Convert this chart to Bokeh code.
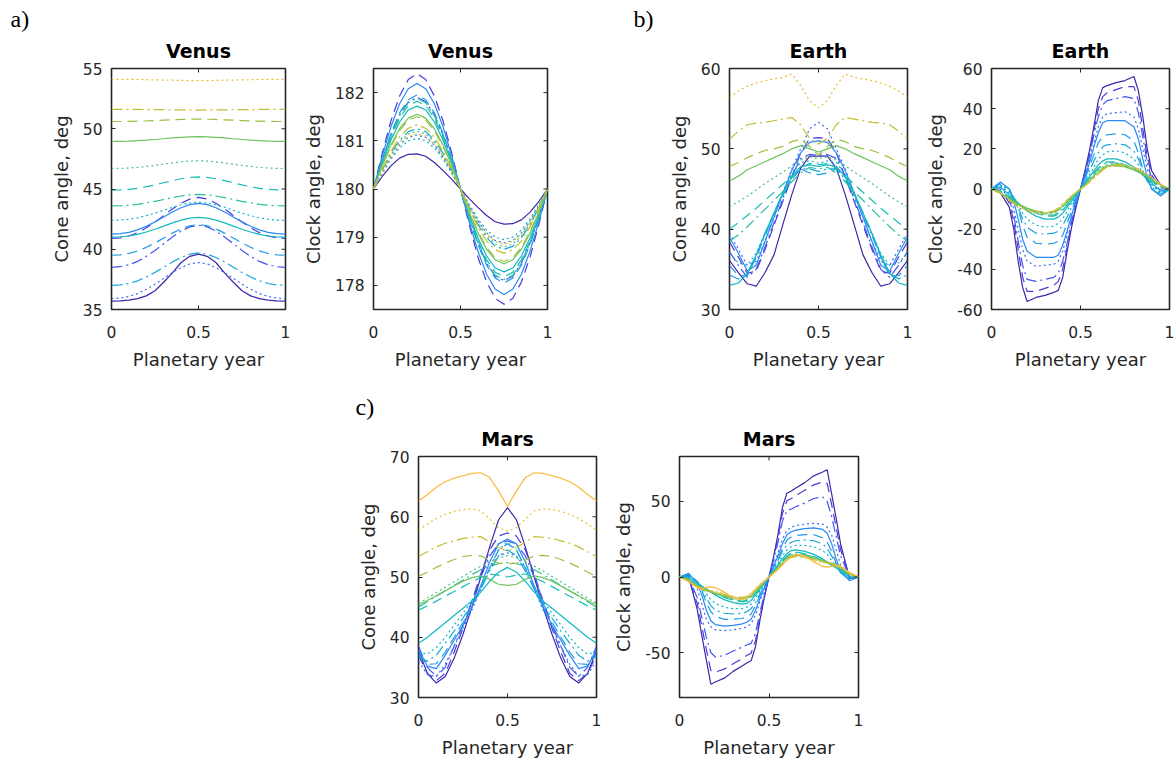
import math
from bokeh.plotting import figure
from bokeh.models import Range1d, FixedTicker, Spacer, Title
from bokeh.layouts import row, column
from bokeh.embed import file_html
from bokeh.resources import INLINE

# ---------------- data ----------------
x21 = [0, 0.05, 0.1, 0.15, 0.2, 0.25, 0.3, 0.35, 0.4, 0.45, 0.5,
       0.55, 0.6, 0.65, 0.7, 0.75, 0.8, 0.85, 0.9, 0.95, 1]
x31 = [0, 0.05, 0.1, 0.125, 0.15, 0.175, 0.2, 0.25, 0.3, 0.35, 0.375, 0.4, 0.425, 0.45, 0.475, 0.5,
       0.525, 0.55, 0.575, 0.6, 0.625, 0.65, 0.7, 0.75, 0.8, 0.825, 0.85, 0.875, 0.9, 0.95, 1]
x_ticks = [0, 0.5, 1]

# Venus cone angle
vc0 = [35.7, 35.72, 35.78, 35.9, 36.13, 36.56, 37.26, 38.04, 38.9, 39.41, 39.6, 39.41, 38.9, 38.04, 37.26, 36.56, 36.13, 35.9, 35.78, 35.72, 35.7]
vc1 = [40.9, 40.95, 41.1, 41.38, 41.78, 42.26, 42.8, 43.35, 43.82, 44.16, 44.3, 44.16, 43.82, 43.35, 42.8, 42.26, 41.78, 41.38, 41.1, 40.95, 40.9]
vc2 = [38.5, 38.55, 38.71, 38.99, 39.41, 39.9, 40.46, 41.02, 41.51, 41.86, 42.0, 41.86, 41.51, 41.02, 40.46, 39.9, 39.41, 38.99, 38.71, 38.55, 38.5]
vc3 = [35.9, 35.95, 36.08, 36.32, 36.68, 37.1, 37.58, 38.06, 38.48, 38.78, 38.9, 38.78, 38.48, 38.06, 37.58, 37.1, 36.68, 36.32, 36.08, 35.95, 35.9]
vc4 = [41.25, 41.29, 41.4, 41.61, 41.91, 42.27, 42.68, 43.09, 43.44, 43.7, 43.8, 43.7, 43.44, 43.09, 42.68, 42.27, 41.91, 41.61, 41.4, 41.29, 41.25]
vc5 = [39.5, 39.54, 39.65, 39.86, 40.16, 40.52, 40.93, 41.34, 41.69, 41.95, 42.05, 41.95, 41.69, 41.34, 40.93, 40.52, 40.16, 39.86, 39.65, 39.54, 39.5]
vc6 = [37.0, 37.04, 37.16, 37.38, 37.7, 38.08, 38.51, 38.94, 39.32, 39.59, 39.7, 39.59, 39.32, 38.94, 38.51, 38.08, 37.7, 37.38, 37.16, 37.04, 37.0]
vc7 = [42.4, 42.42, 42.49, 42.61, 42.79, 43.0, 43.24, 43.48, 43.69, 43.84, 43.9, 43.84, 43.69, 43.48, 43.24, 43.0, 42.79, 42.61, 42.49, 42.42, 42.4]
vc8 = [41.0, 41.02, 41.1, 41.23, 41.43, 41.66, 41.92, 42.19, 42.42, 42.58, 42.65, 42.58, 42.42, 42.19, 41.92, 41.66, 41.43, 41.23, 41.1, 41.02, 41.0]
vc9 = [44.9, 44.92, 44.97, 45.05, 45.19, 45.34, 45.52, 45.69, 45.85, 45.96, 46.0, 45.96, 45.85, 45.69, 45.52, 45.34, 45.19, 45.05, 44.97, 44.92, 44.9]
vc10 = [43.6, 43.61, 43.66, 43.73, 43.85, 43.98, 44.13, 44.28, 44.42, 44.51, 44.55, 44.51, 44.42, 44.28, 44.13, 43.98, 43.85, 43.73, 43.66, 43.61, 43.6]
vc11 = [46.7, 46.71, 46.74, 46.79, 46.87, 46.96, 47.06, 47.17, 47.26, 47.32, 47.35, 47.32, 47.26, 47.17, 47.06, 46.96, 46.87, 46.79, 46.74, 46.71, 46.7]
vc12 = [48.95, 48.96, 48.97, 49.01, 49.05, 49.11, 49.17, 49.24, 49.29, 49.33, 49.35, 49.33, 49.29, 49.24, 49.17, 49.11, 49.05, 49.01, 48.97, 48.96, 48.95]
vc13 = [50.6, 50.6, 50.61, 50.63, 50.65, 50.68, 50.71, 50.74, 50.77, 50.79, 50.8, 50.79, 50.77, 50.74, 50.71, 50.68, 50.65, 50.63, 50.61, 50.6, 50.6]
vc14 = [51.6, 51.6, 51.6, 51.6, 51.59, 51.58, 51.58, 51.57, 51.56, 51.56, 51.55, 51.56, 51.56, 51.57, 51.58, 51.58, 51.59, 51.6, 51.6, 51.6, 51.6]
vc15 = [54.1, 54.1, 54.09, 54.09, 54.07, 54.06, 54.04, 54.03, 54.01, 54.0, 54.0, 54.0, 54.01, 54.03, 54.04, 54.06, 54.07, 54.09, 54.09, 54.1, 54.1]

# Venus clock angle
vk0 = [180, 180.26, 180.48, 180.64, 180.72, 180.73, 180.68, 180.55, 180.38, 180.2, 180, 179.8, 179.62, 179.45, 179.32, 179.27, 179.28, 179.36, 179.52, 179.74, 180]
vk1 = [180, 180.74, 181.41, 181.93, 182.27, 182.39, 182.27, 181.93, 181.41, 180.74, 180, 179.26, 178.59, 178.07, 177.73, 177.61, 177.73, 178.07, 178.59, 179.26, 180]
vk2 = [180, 180.59, 181.12, 181.54, 181.81, 181.9, 181.81, 181.54, 181.12, 180.59, 180, 179.41, 178.88, 178.46, 178.19, 178.1, 178.19, 178.46, 178.88, 179.41, 180]
vk3 = [180, 180.35, 180.66, 180.91, 181.07, 181.12, 181.07, 180.91, 180.66, 180.35, 180, 179.65, 179.34, 179.09, 178.93, 178.88, 178.93, 179.09, 179.34, 179.65, 180]
vk4 = [180, 180.68, 181.29, 181.77, 182.08, 182.19, 182.08, 181.77, 181.29, 180.68, 180, 179.32, 178.71, 178.23, 177.92, 177.81, 177.92, 178.23, 178.71, 179.32, 180]
vk5 = [180, 180.6, 181.15, 181.58, 181.85, 181.95, 181.85, 181.58, 181.15, 180.6, 180, 179.4, 178.85, 178.42, 178.15, 178.05, 178.15, 178.42, 178.85, 179.4, 180]
vk6 = [180, 180.39, 180.74, 181.01, 181.19, 181.25, 181.19, 181.01, 180.74, 180.39, 180, 179.61, 179.26, 178.99, 178.81, 178.75, 178.81, 178.99, 179.26, 179.61, 180]
vk7 = [180, 180.32, 180.62, 180.85, 181.0, 181.05, 181.0, 180.85, 180.62, 180.32, 180, 179.68, 179.38, 179.15, 179.0, 178.95, 179.0, 179.15, 179.38, 179.68, 180]
vk8 = [180, 180.53, 181.01, 181.39, 181.64, 181.72, 181.64, 181.39, 181.01, 180.53, 180, 179.47, 178.99, 178.61, 178.36, 178.28, 178.36, 178.61, 178.99, 179.47, 180]
vk9 = [180, 180.56, 181.07, 181.47, 181.73, 181.82, 181.73, 181.47, 181.07, 180.56, 180, 179.44, 178.93, 178.53, 178.27, 178.18, 178.27, 178.53, 178.93, 179.44, 180]
vk10 = [180, 180.58, 181.11, 181.52, 181.79, 181.88, 181.79, 181.52, 181.11, 180.58, 180, 179.42, 178.89, 178.48, 178.21, 178.12, 178.21, 178.48, 178.89, 179.42, 180]
vk11 = [180, 180.37, 180.71, 180.97, 181.14, 181.2, 181.14, 180.97, 180.71, 180.37, 180, 179.63, 179.29, 179.03, 178.86, 178.8, 178.86, 179.03, 179.29, 179.63, 180]
vk12 = [180, 180.48, 180.91, 181.25, 181.47, 181.55, 181.47, 181.25, 180.91, 180.48, 180, 179.52, 179.09, 178.75, 178.53, 178.45, 178.53, 178.75, 179.09, 179.52, 180]
vk13 = [180, 180.46, 180.88, 181.21, 181.43, 181.5, 181.43, 181.21, 180.88, 180.46, 180, 179.54, 179.12, 178.79, 178.57, 178.5, 178.57, 178.79, 179.12, 179.54, 180]
vk14 = [180, 180.41, 180.78, 181.08, 181.26, 181.33, 181.26, 181.08, 180.78, 180.41, 180, 179.59, 179.22, 178.92, 178.74, 178.67, 178.74, 178.92, 179.22, 179.59, 180]
vk15 = [180, 180.36, 180.68, 180.93, 181.09, 181.15, 181.09, 180.93, 180.68, 180.36, 180, 179.64, 179.32, 179.07, 178.91, 178.85, 178.91, 179.07, 179.32, 179.64, 180]

# Earth cone angle
ec0 = [36.1, 34.6, 33.2, 32.9, 34.6, 36.8, 40.6, 44.3, 47.6, 49.1, 49.1, 49.1, 47.6, 44.3, 40.6, 36.8, 34.6, 32.9, 33.2, 34.6, 36.1]
ec1 = [38.4, 36.5, 34.5, 34.8, 37.5, 40.5, 43.5, 46.5, 49.5, 51.3, 51.4, 51.3, 49.5, 46.5, 43.5, 40.5, 37.5, 34.8, 34.5, 36.5, 38.4]
ec2 = [37.2, 35.5, 34.0, 35.0, 37.8, 40.8, 43.8, 46.6, 48.8, 49.3, 49.2, 49.3, 48.8, 46.6, 43.8, 40.8, 37.8, 35.0, 34.0, 35.5, 37.2]
ec3 = [39.5, 37.5, 35.5, 36.0, 38.5, 41.5, 44.5, 47.5, 50.0, 52.5, 53.3, 52.5, 50.0, 47.5, 44.5, 41.5, 38.5, 36.0, 35.5, 37.5, 39.5]
ec4 = [39.0, 37.0, 34.8, 35.5, 38.5, 41.5, 44.5, 47.3, 49.5, 50.8, 51.0, 50.8, 49.5, 47.3, 44.5, 41.5, 38.5, 35.5, 34.8, 37.0, 39.0]
ec5 = [35.5, 34.2, 34.2, 36.5, 39.5, 42.0, 44.5, 46.5, 47.5, 47.0, 46.8, 47.0, 47.5, 46.5, 44.5, 42.0, 39.5, 36.5, 34.2, 34.2, 35.5]
ec6 = [34.3, 33.8, 34.5, 36.5, 39.2, 41.8, 44.2, 46.2, 47.5, 47.5, 47.2, 47.5, 47.5, 46.2, 44.2, 41.8, 39.2, 36.5, 34.5, 33.8, 34.3]
ec7 = [37.0, 35.8, 35.5, 37.0, 39.5, 42.0, 44.5, 46.8, 48.3, 48.5, 48.2, 48.5, 48.3, 46.8, 44.5, 42.0, 39.5, 37.0, 35.5, 35.8, 37.0]
ec8 = [33.0, 33.3, 34.5, 36.8, 39.5, 42.0, 44.5, 46.5, 47.8, 48.0, 47.8, 48.0, 47.8, 46.5, 44.5, 42.0, 39.5, 36.8, 34.5, 33.3, 33.0]
ec9 = [40.0, 40.8, 41.7, 42.6, 43.6, 44.6, 45.6, 46.6, 47.6, 48.2, 48.0, 48.2, 47.6, 46.6, 45.6, 44.6, 43.6, 42.6, 41.7, 40.8, 40.0]
ec10 = [38.5, 39.3, 40.3, 41.4, 42.5, 43.6, 44.7, 45.9, 47.0, 47.7, 47.5, 47.7, 47.0, 45.9, 44.7, 43.6, 42.5, 41.4, 40.3, 39.3, 38.5]
ec11 = [42.8, 43.4, 44.1, 44.9, 45.7, 46.4, 47.1, 47.9, 48.6, 49.0, 48.8, 49.0, 48.6, 47.9, 47.1, 46.4, 45.7, 44.9, 44.1, 43.4, 42.8]
ec12 = [46.0, 46.6, 47.4, 47.9, 48.4, 48.9, 49.4, 50.0, 50.4, 50.0, 49.6, 50.0, 50.4, 50.0, 49.4, 48.9, 48.4, 47.9, 47.4, 46.6, 46.0]
ec13 = [47.8, 48.3, 48.9, 49.4, 49.8, 50.0, 50.3, 50.9, 51.2, 50.3, 49.2, 50.3, 51.2, 50.9, 50.3, 50.0, 49.8, 49.4, 48.9, 48.3, 47.8]
ec14 = [51.2, 52.2, 53.0, 53.2, 53.3, 53.5, 53.7, 53.9, 53.0, 51.3, 50.6, 51.3, 53.0, 53.9, 53.7, 53.5, 53.3, 53.2, 53.0, 52.2, 51.2]
ec15 = [56.4, 57.2, 57.8, 58.2, 58.5, 58.7, 58.9, 59.3, 57.9, 56.0, 55.1, 56.0, 57.9, 59.3, 58.9, 58.7, 58.5, 58.2, 57.8, 57.2, 56.4]

# Earth clock angle
ek0 = [0, -2, -9, -20, -36, -49, -56, -54, -53, -51.5, -50.5, -44, -31, -19, -9, 0, 9, 19, 31, 44, 50.5, 51.5, 53, 54, 56, 49, 36, 20, 9, 2, 0]
ek1 = [0, 0, -7, -16, -30, -44, -51, -51, -49.5, -48, -46, -40, -29, -17, -8, 0, 8, 17, 29, 40, 46, 48, 49.5, 51, 51, 44, 30, 16, 7, 0, 0]
ek2 = [0, 1, -5, -13, -26, -38, -45, -46, -45, -44, -42, -36, -27, -16, -8, 0, 8, 16, 27, 36, 42, 44, 45, 46, 45, 38, 26, 13, 5, -1, 0]
ek3 = [0, 2, -3, -10, -20, -30, -36, -38.5, -38, -37.5, -36, -31, -23, -14, -7, 0, 7, 14, 23, 31, 36, 37.5, 38, 38.5, 36, 30, 20, 10, 3, -2, 0]
ek4 = [0, 3.5, 0, -6, -15, -25, -31, -34, -34, -34, -33, -28, -21, -13, -6, 0, 6, 13, 21, 28, 33, 34, 34, 34, 31, 25, 15, 6, 0, -3.5, 0]
ek5 = [0, 3, 0, -4, -10, -18, -24, -27, -27.5, -27, -26, -23, -17, -11, -5, 0, 5, 11, 17, 23, 26, 27, 27.5, 27, 24, 18, 10, 4, 0, -3, 0]
ek6 = [0, 2.5, -1, -4, -9, -15, -19, -22, -22.5, -22, -21, -18, -14, -9, -4, 0, 4, 9, 14, 18, 21, 22, 22.5, 22, 19, 15, 9, 4, 1, -2.5, 0]
ek7 = [0, 2, -2, -4, -8, -12, -15, -18, -19, -18.5, -17, -15, -11, -7, -3.5, 0, 3.5, 7, 11, 15, 17, 18.5, 19, 18, 15, 12, 8, 4, 2, -2, 0]
ek8 = [0, 1, -3, -5, -7, -9, -11, -13.5, -15, -15, -14, -12, -9, -6, -3, 0, 3, 6, 9, 12, 14, 15, 15, 13.5, 11, 9, 7, 5, 3, -1, 0]
ek9 = [0, -1, -4, -6, -7.5, -9, -10, -12, -13.5, -13.5, -12.5, -10.5, -8, -5.5, -2.5, 0, 2.5, 5.5, 8, 10.5, 12.5, 13.5, 13.5, 12, 10, 9, 7.5, 6, 4, 1, 0]
ek10 = [0, -1, -4, -5.5, -7, -8.5, -9.5, -11.5, -13, -13, -12, -10, -7.5, -5, -2.5, 0, 2.5, 5, 7.5, 10, 12, 13, 13, 11.5, 9.5, 8.5, 7, 5.5, 4, 1, 0]
ek11 = [0, -1.5, -4.5, -6, -7.5, -9, -10, -11.5, -12.5, -12, -11, -9, -7, -4.5, -2, 0, 2, 4.5, 7, 9, 11, 12, 12.5, 11.5, 10, 9, 7.5, 6, 4.5, 1.5, 0]
ek12 = [0, -2, -5, -6.5, -7.5, -8.5, -9.5, -11, -12, -11.5, -10.5, -8.5, -6.5, -4, -2, 0, 2, 4, 6.5, 8.5, 10.5, 11.5, 12, 11, 9.5, 8.5, 7.5, 6.5, 5, 2, 0]
ek13 = [0, -2, -5, -6.5, -8, -9, -10, -11, -11.5, -11, -10, -8, -6, -4, -2, 0, 2, 4, 6, 8, 10, 11, 11.5, 11, 10, 9, 8, 6.5, 5, 2, 0]
ek14 = [0, -2, -5.5, -7, -8.5, -9.5, -10.5, -11.5, -12, -11, -9.5, -7.5, -5.5, -3.5, -1.5, 0, 1.5, 3.5, 5.5, 7.5, 9.5, 11, 12, 11.5, 10.5, 9.5, 8.5, 7, 5.5, 2, 0]
ek15 = [0, -2.5, -6, -7.5, -9, -10, -11, -12, -12.5, -11, -9.5, -7.5, -5.5, -3.5, -1.5, 0, 1.5, 3.5, 5.5, 7.5, 9.5, 11, 12.5, 12, 11, 10, 9, 7.5, 6, 2.5, 0]

# Mars cone angle
mc0 = [37.8, 34.0, 32.4, 33.5, 36.5, 40.5, 45.0, 50.0, 55.0, 59.5, 61.5, 59.5, 55.0, 50.0, 45.0, 40.5, 36.5, 33.5, 32.4, 34.0, 37.8]
mc1 = [37.0, 34.0, 32.8, 34.0, 37.5, 41.5, 46.0, 50.5, 54.5, 56.8, 57.3, 56.8, 54.5, 50.5, 46.0, 41.5, 37.5, 34.0, 32.8, 34.0, 37.0]
mc2 = [38.5, 35.0, 33.5, 35.0, 38.5, 42.0, 46.0, 50.0, 53.5, 55.5, 56.0, 55.5, 53.5, 50.0, 46.0, 42.0, 38.5, 35.0, 33.5, 35.0, 38.5]
mc3 = [36.0, 33.8, 33.5, 35.5, 38.5, 41.5, 44.5, 48.0, 51.5, 53.5, 54.0, 53.5, 51.5, 48.0, 44.5, 41.5, 38.5, 35.5, 33.5, 33.8, 36.0]
mc4 = [38.0, 35.2, 34.8, 37.0, 39.5, 42.0, 45.0, 48.5, 52.5, 55.5, 56.3, 55.5, 52.5, 48.5, 45.0, 42.0, 39.5, 37.0, 34.8, 35.2, 38.0]
mc5 = [37.3, 35.5, 35.6, 37.5, 40.0, 42.5, 45.0, 48.0, 51.5, 54.5, 55.5, 54.5, 51.5, 48.0, 45.0, 42.5, 40.0, 37.5, 35.6, 35.5, 37.3]
mc6 = [36.8, 36.0, 37.0, 39.0, 41.0, 43.2, 45.5, 48.0, 51.0, 53.5, 54.5, 53.5, 51.0, 48.0, 45.5, 43.2, 41.0, 39.0, 37.0, 36.0, 36.8]
mc7 = [37.5, 37.2, 38.3, 40.0, 42.0, 44.0, 46.0, 48.5, 51.5, 54.5, 55.8, 54.5, 51.5, 48.5, 46.0, 44.0, 42.0, 40.0, 38.3, 37.2, 37.5]
mc8 = [39.0, 40.0, 41.2, 42.4, 43.6, 44.8, 46.0, 47.5, 49.3, 50.8, 51.6, 50.8, 49.3, 47.5, 46.0, 44.8, 43.6, 42.4, 41.2, 40.0, 39.0]
mc9 = [44.5, 45.2, 46.0, 46.8, 47.6, 48.4, 49.2, 49.9, 50.5, 50.3, 50.0, 50.3, 50.5, 49.9, 49.2, 48.4, 47.6, 46.8, 46.0, 45.2, 44.5]
mc10 = [45.0, 45.9, 46.8, 47.7, 48.6, 49.5, 50.4, 51.2, 51.8, 52.2, 52.4, 52.2, 51.8, 51.2, 50.4, 49.5, 48.6, 47.7, 46.8, 45.9, 45.0]
mc11 = [45.6, 46.5, 47.4, 48.3, 49.2, 50.1, 51.0, 51.8, 52.5, 53.2, 53.5, 53.2, 52.5, 51.8, 51.0, 50.1, 49.2, 48.3, 47.4, 46.5, 45.6]
mc12 = [45.4, 46.1, 46.9, 47.7, 48.5, 49.3, 49.9, 50.2, 49.6, 48.8, 48.6, 48.8, 49.6, 50.2, 49.9, 49.3, 48.5, 47.7, 46.9, 46.1, 45.4]
mc13 = [50.1, 50.8, 51.6, 52.3, 52.9, 53.4, 53.6, 53.5, 52.8, 52.3, 52.2, 52.3, 52.8, 53.5, 53.6, 53.4, 52.9, 52.3, 51.6, 50.8, 50.1]
mc14 = [53.4, 54.2, 55.0, 55.6, 56.0, 56.4, 56.6, 56.7, 55.8, 54.9, 54.3, 54.9, 55.8, 56.7, 56.6, 56.4, 56.0, 55.6, 55.0, 54.2, 53.4]
mc15 = [57.8, 58.8, 59.7, 60.4, 60.9, 61.2, 61.3, 61.0, 59.6, 58.2, 57.6, 58.2, 59.6, 61.0, 61.3, 61.2, 60.9, 60.4, 59.7, 58.8, 57.8]
mc16 = [62.6, 63.7, 64.9, 65.8, 66.4, 66.8, 67.2, 67.3, 66.5, 64.3, 61.7, 64.3, 66.5, 67.3, 67.2, 66.8, 66.4, 65.8, 64.9, 63.7, 62.6]

# Mars clock angle
mk0 = [0, 1, -22, -39, -55, -71, -69.5, -67, -62.5, -59, -57, -55.5, -46, -28, -13, 0, 13, 28, 46, 55.5, 57, 59, 62.5, 67, 69.5, 71, 55, 39, 22, -1, 0]
mk1 = [0, 0, -18, -33, -48, -62, -63, -61, -57.5, -54, -52, -50.5, -42, -26, -12, 0, 12, 26, 42, 50.5, 52, 54, 57.5, 61, 63, 62, 48, 33, 18, 0, 0]
mk2 = [0, 0, -14, -27, -40, -50, -53, -52, -49, -46.5, -45, -44, -37, -23, -11, 0, 11, 23, 37, 44, 45, 46.5, 49, 52, 53, 50, 40, 27, 14, 0, 0]
mk3 = [0, 1, -8, -18, -28, -33, -35, -35.5, -35, -34, -33, -31, -25, -16, -8, 0, 8, 16, 25, 31, 33, 34, 35, 35.5, 35, 33, 28, 18, 8, -1, 0]
mk4 = [0, 2.5, -4, -12, -22, -29, -31.5, -32.5, -32, -31, -30, -28, -22, -14, -7, 0, 7, 14, 22, 28, 30, 31, 32, 32.5, 31.5, 29, 22, 12, 4, -2.5, 0]
mk5 = [0, 2, -3, -9, -17, -23, -26, -28, -28, -27.5, -26.5, -24.5, -19, -12, -6, 0, 6, 12, 19, 24.5, 26.5, 27.5, 28, 28, 26, 23, 17, 9, 3, -2, 0]
mk6 = [0, 1.5, -3, -8, -14, -19, -22, -24, -24.5, -24, -23, -21, -17, -11, -5.5, 0, 5.5, 11, 17, 21, 23, 24, 24.5, 24, 22, 19, 14, 8, 3, -1.5, 0]
mk7 = [0, 1, -3, -7, -11, -15, -17.5, -20, -21, -21, -20, -18, -14, -9, -4.5, 0, 4.5, 9, 14, 18, 20, 21, 21, 20, 17.5, 15, 11, 7, 3, -1, 0]
mk8 = [0, 0, -4, -6, -8, -10, -12, -15, -17, -18, -17.5, -15.5, -12, -8, -4, 0, 4, 8, 12, 15.5, 17.5, 18, 17, 15, 12, 10, 8, 6, 4, 0, 0]
mk9 = [0, -1, -5, -6.5, -8, -9.5, -11, -13.5, -15.5, -16.5, -16, -14, -11, -7.5, -3.5, 0, 3.5, 7.5, 11, 14, 16, 16.5, 15.5, 13.5, 11, 9.5, 8, 6.5, 5, 1, 0]
mk10 = [0, -1, -5, -6.5, -8, -9.5, -11, -13, -15, -16, -15.5, -13.5, -10.5, -7, -3.5, 0, 3.5, 7, 10.5, 13.5, 15.5, 16, 15, 13, 11, 9.5, 8, 6.5, 5, 1, 0]
mk11 = [0, -1.5, -5.5, -7, -8.5, -10, -11, -13, -14.5, -15, -14.5, -13, -10, -6.5, -3, 0, 3, 6.5, 10, 13, 14.5, 15, 14.5, 13, 11, 10, 8.5, 7, 5.5, 1.5, 0]
mk12 = [0, -2, -6, -7.5, -9, -10, -11, -12.5, -14, -14.5, -14, -12.5, -9.5, -6, -3, 0, 3, 6, 9.5, 12.5, 14, 14.5, 14, 12.5, 11, 10, 9, 7.5, 6, 2, 0]
mk13 = [0, -2, -6, -7.5, -8.5, -9.5, -10.5, -12, -13.5, -14, -13.5, -12, -9, -6, -3, 0, 3, 6, 9, 12, 13.5, 14, 13.5, 12, 10.5, 9.5, 8.5, 7.5, 6, 2, 0]
mk14 = [0, -2.5, -7, -8, -9, -9.5, -10, -11.5, -13, -13.5, -13, -11.5, -8.5, -5.5, -2.5, 0, 2.5, 5.5, 8.5, 11.5, 13, 13.5, 13, 11.5, 10, 9.5, 9, 8, 7, 2.5, 0]
mk15 = [0, -3, -7.5, -8.5, -9, -9, -9.5, -11, -13, -14, -13, -11, -8, -5, -2.5, 0, 2.5, 5, 8, 11, 13, 14, 13, 11, 9.5, 9, 9, 8.5, 7.5, 3, 0]
mk16 = [0, -3, -7, -7.5, -7, -6.5, -7, -10, -14, -15, -13.5, -11, -8, -5, -2.5, 0, 2.5, 5, 8, 11, 13.5, 15, 14, 10, 7, 6.5, 7, 7.5, 7, 3, 0]

venus_cone = [vc0, vc1, vc2, vc3, vc4, vc5, vc6, vc7, vc8, vc9, vc10, vc11, vc12, vc13, vc14, vc15]
venus_clock = [vk0, vk1, vk2, vk3, vk4, vk5, vk6, vk7, vk8, vk9, vk10, vk11, vk12, vk13, vk14, vk15]
earth_cone = [ec0, ec1, ec2, ec3, ec4, ec5, ec6, ec7, ec8, ec9, ec10, ec11, ec12, ec13, ec14, ec15]
earth_clock = [ek0, ek1, ek2, ek3, ek4, ek5, ek6, ek7, ek8, ek9, ek10, ek11, ek12, ek13, ek14, ek15]
mars_cone = [mc0, mc1, mc2, mc3, mc4, mc5, mc6, mc7, mc8, mc9, mc10, mc11, mc12, mc13, mc14, mc15, mc16]
mars_clock = [mk0, mk1, mk2, mk3, mk4, mk5, mk6, mk7, mk8, mk9, mk10, mk11, mk12, mk13, mk14, mk15, mk16]

ticks_venus_cone = [35, 40, 45, 50, 55]
ticks_venus_clock = [178, 179, 180, 181, 182]
ticks_earth_cone = [30, 40, 50, 60]
ticks_earth_clock = [-60, -40, -20, 0, 20, 40, 60]
ticks_mars_cone = [30, 40, 50, 60, 70]
ticks_mars_clock = [-50, 0, 50]

# ---------------- styling ----------------
FONT = "DejaVu Sans"
DARK = "#262626"
ANCHORS = [
    (0.00, (62, 38, 168)), (0.07, (72, 64, 230)), (0.14, (62, 100, 250)),
    (0.22, (40, 135, 245)), (0.30, (25, 160, 228)), (0.40, (12, 180, 205)),
    (0.50, (25, 190, 180)), (0.58, (50, 192, 150)), (0.64, (90, 195, 110)),
    (0.70, (135, 196, 75)), (0.76, (185, 190, 50)), (0.83, (230, 190, 50)),
    (0.89, (250, 185, 60)), (1.00, (249, 251, 14)),
]


def cmap(t):
    for (t0, c0), (t1, c1) in zip(ANCHORS[:-1], ANCHORS[1:]):
        if t <= t1:
            f = (t - t0) / (t1 - t0)
            return "#%02x%02x%02x" % tuple(int(round(a + (b - a) * f)) for a, b in zip(c0, c1))
    return "#%02x%02x%02x" % ANCHORS[-1][1]


DASHES = ["solid", "10 6", "11 4 2 4", "2 3"]


def fmt(v):
    return "%g" % v


def panel(xs, series, yr, yticks, title, ylabel, left, fw, right, top, bottom):
    p = figure(frame_width=fw, frame_height=241, min_border_left=left, min_border_right=right,
               min_border_top=top, min_border_bottom=bottom, x_range=Range1d(0, 1),
               y_range=Range1d(*yr), output_backend="svg", toolbar_location=None, title=None)
    p.xgrid.visible = False
    p.ygrid.visible = False
    p.outline_line_color = DARK
    p.outline_line_width = 1.6
    p.background_fill_color = "white"
    p.border_fill_color = "white"
    for i, ys in enumerate(series):
        p.line(xs, ys, line_color=cmap(i / 18.0), line_width=1.2, line_dash=DASHES[i % 4])
    for ax, tk in ((p.xaxis[0], x_ticks), (p.yaxis[0], yticks)):
        ax.ticker = FixedTicker(ticks=tk)
        ax.major_label_overrides = {float(v): fmt(v) for v in tk}
        ax.axis_line_color = None
        ax.major_tick_in = 4
        ax.major_tick_out = 0
        ax.major_tick_line_color = DARK
        ax.minor_tick_line_color = None
        ax.major_label_text_font = FONT
        ax.major_label_text_font_size = "15.5px"
        ax.major_label_text_color = DARK
        ax.axis_label_text_font = FONT
        ax.axis_label_text_font_size = "18px"
        ax.axis_label_text_font_style = "normal"
        ax.axis_label_text_color = DARK
    p.xaxis[0].axis_label = "Planetary year"
    p.yaxis[0].axis_label = ylabel
    p.xaxis[0].major_label_standoff = 16
    p.xaxis[0].axis_label_standoff = 8
    p.yaxis[0].major_label_standoff = 9
    p.yaxis[0].axis_label_standoff = 8
    # mirrored inward tick marks on the top and right frame edges (half of each dash is clipped)
    p.scatter(x_ticks, [yr[1]] * len(x_ticks), marker="dash", size=8, angle=math.pi / 2,
              line_color=DARK, line_width=1)
    p.scatter([1] * len(yticks), yticks, marker="dash", size=8, line_color=DARK, line_width=1)
    p.add_layout(Title(text=title, align="center", text_font=FONT, text_font_size="19px",
                       text_font_style="bold", text_color="black", standoff=13), "above")
    return p


def tag(p, text, offset):
    p.add_layout(Title(text=text, align="left", offset=offset, text_font="Liberation Serif",
                       text_font_size="24px", text_font_style="normal", text_color="black",
                       standoff=0), "above")


fa1 = panel(x21, venus_cone, (35, 55), ticks_venus_cone, "Venus", "Cone angle, deg", 111, 174, 10, 68, 64)
fa2 = panel(x21, venus_clock, (177.5, 182.5), ticks_venus_clock, "Venus", "Clock angle, deg", 78, 174, 10, 68, 64)
fb1 = panel(x21, earth_cone, (30, 60), ticks_earth_cone, "Earth", "Cone angle, deg", 172, 178, 10, 68, 64)
fb2 = panel(x31, earth_clock, (-60, 60), ticks_earth_clock, "Earth", "Clock angle, deg", 74, 178, 5, 68, 64)
fc1 = panel(x21, mars_cone, (30, 70), ticks_mars_cone, "Mars", "Cone angle, deg", 118, 178, 10, 83, 65)
fc2 = panel(x31, mars_clock, (-79.8, 79.8), ticks_mars_clock, "Mars", "Clock angle, deg", 73, 179, 10, 83, 65)

tag(fa1, "a)", -101)
tag(fb1, "b)", -96)
tag(fc1, "c)", -63)

layout = column(row(fa1, fa2, fb1, fb2), row(Spacer(width=300, height=389), fc1, fc2))
open("out.html", "w").write(file_html(layout, INLINE))
